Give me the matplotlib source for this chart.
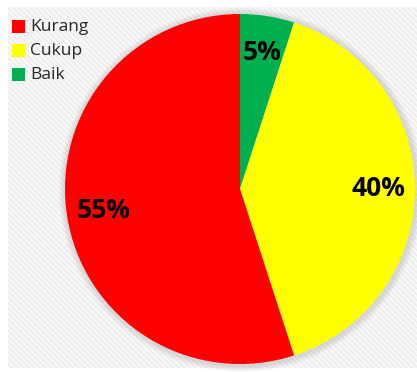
import matplotlib.pyplot as plt
from matplotlib.patches import Rectangle, Circle

categories = ["Baik", "Cukup", "Kurang"]
values = [5, 40, 55]
colors = ["#00B050", "#FFFF00", "#FF0000"]
legend_order = ["Kurang", "Cukup", "Baik"]

W, H = 417, 372
plt.rcParams["hatch.linewidth"] = 0.6
fig = plt.figure(figsize=(W / 100, H / 100), dpi=100)
fig.patch.set_facecolor("white")

# striped plot-area background
bg = fig.add_axes([0, 0, 1, 1])
bg.set_xlim(0, W)
bg.set_ylim(H, 0)
bg.axis("off")
bg.add_patch(Rectangle((8, 7), W - 8, 361, facecolor="#f7f7f7", edgecolor="none"))
bg.add_patch(Rectangle((8, 7), W - 8, 361, facecolor="none", edgecolor="#e6e6e6",
                       hatch="\\\\\\\\\\\\", linewidth=0))
# soft shadow around the pie
for i in range(6):
    bg.add_patch(Circle((241, 190), 175 + 7 - i, facecolor="#909090", alpha=0.05,
                        edgecolor="none"))

plt.rcParams["font.family"] = ["Open Sans", "DejaVu Sans"]
ax = fig.add_axes([65 / W, (H - 364) / H, 350 / W, 350 / H])
wedges, texts, autotexts = ax.pie(
    values, colors=colors, startangle=90, counterclock=False,
    autopct="%d%%", pctdistance=0.79, radius=1,
    wedgeprops=dict(linewidth=0),
    textprops=dict(fontsize=19, fontweight="bold", color="black"),
)
ax.set_xlim(-1, 1)
ax.set_ylim(-1, 1)
ax.set_aspect("auto")

lookup = dict(zip(categories, colors))
for i, name in enumerate(legend_order):
    y = 27 + 24 * i
    bg.add_patch(Rectangle((12, y - 7), 13, 13, facecolor=lookup[name], edgecolor="none"))
    bg.text(30, y, name, fontsize=12.5, va="center", ha="left", color="#262626")

fig.savefig("out.png", dpi=100)
